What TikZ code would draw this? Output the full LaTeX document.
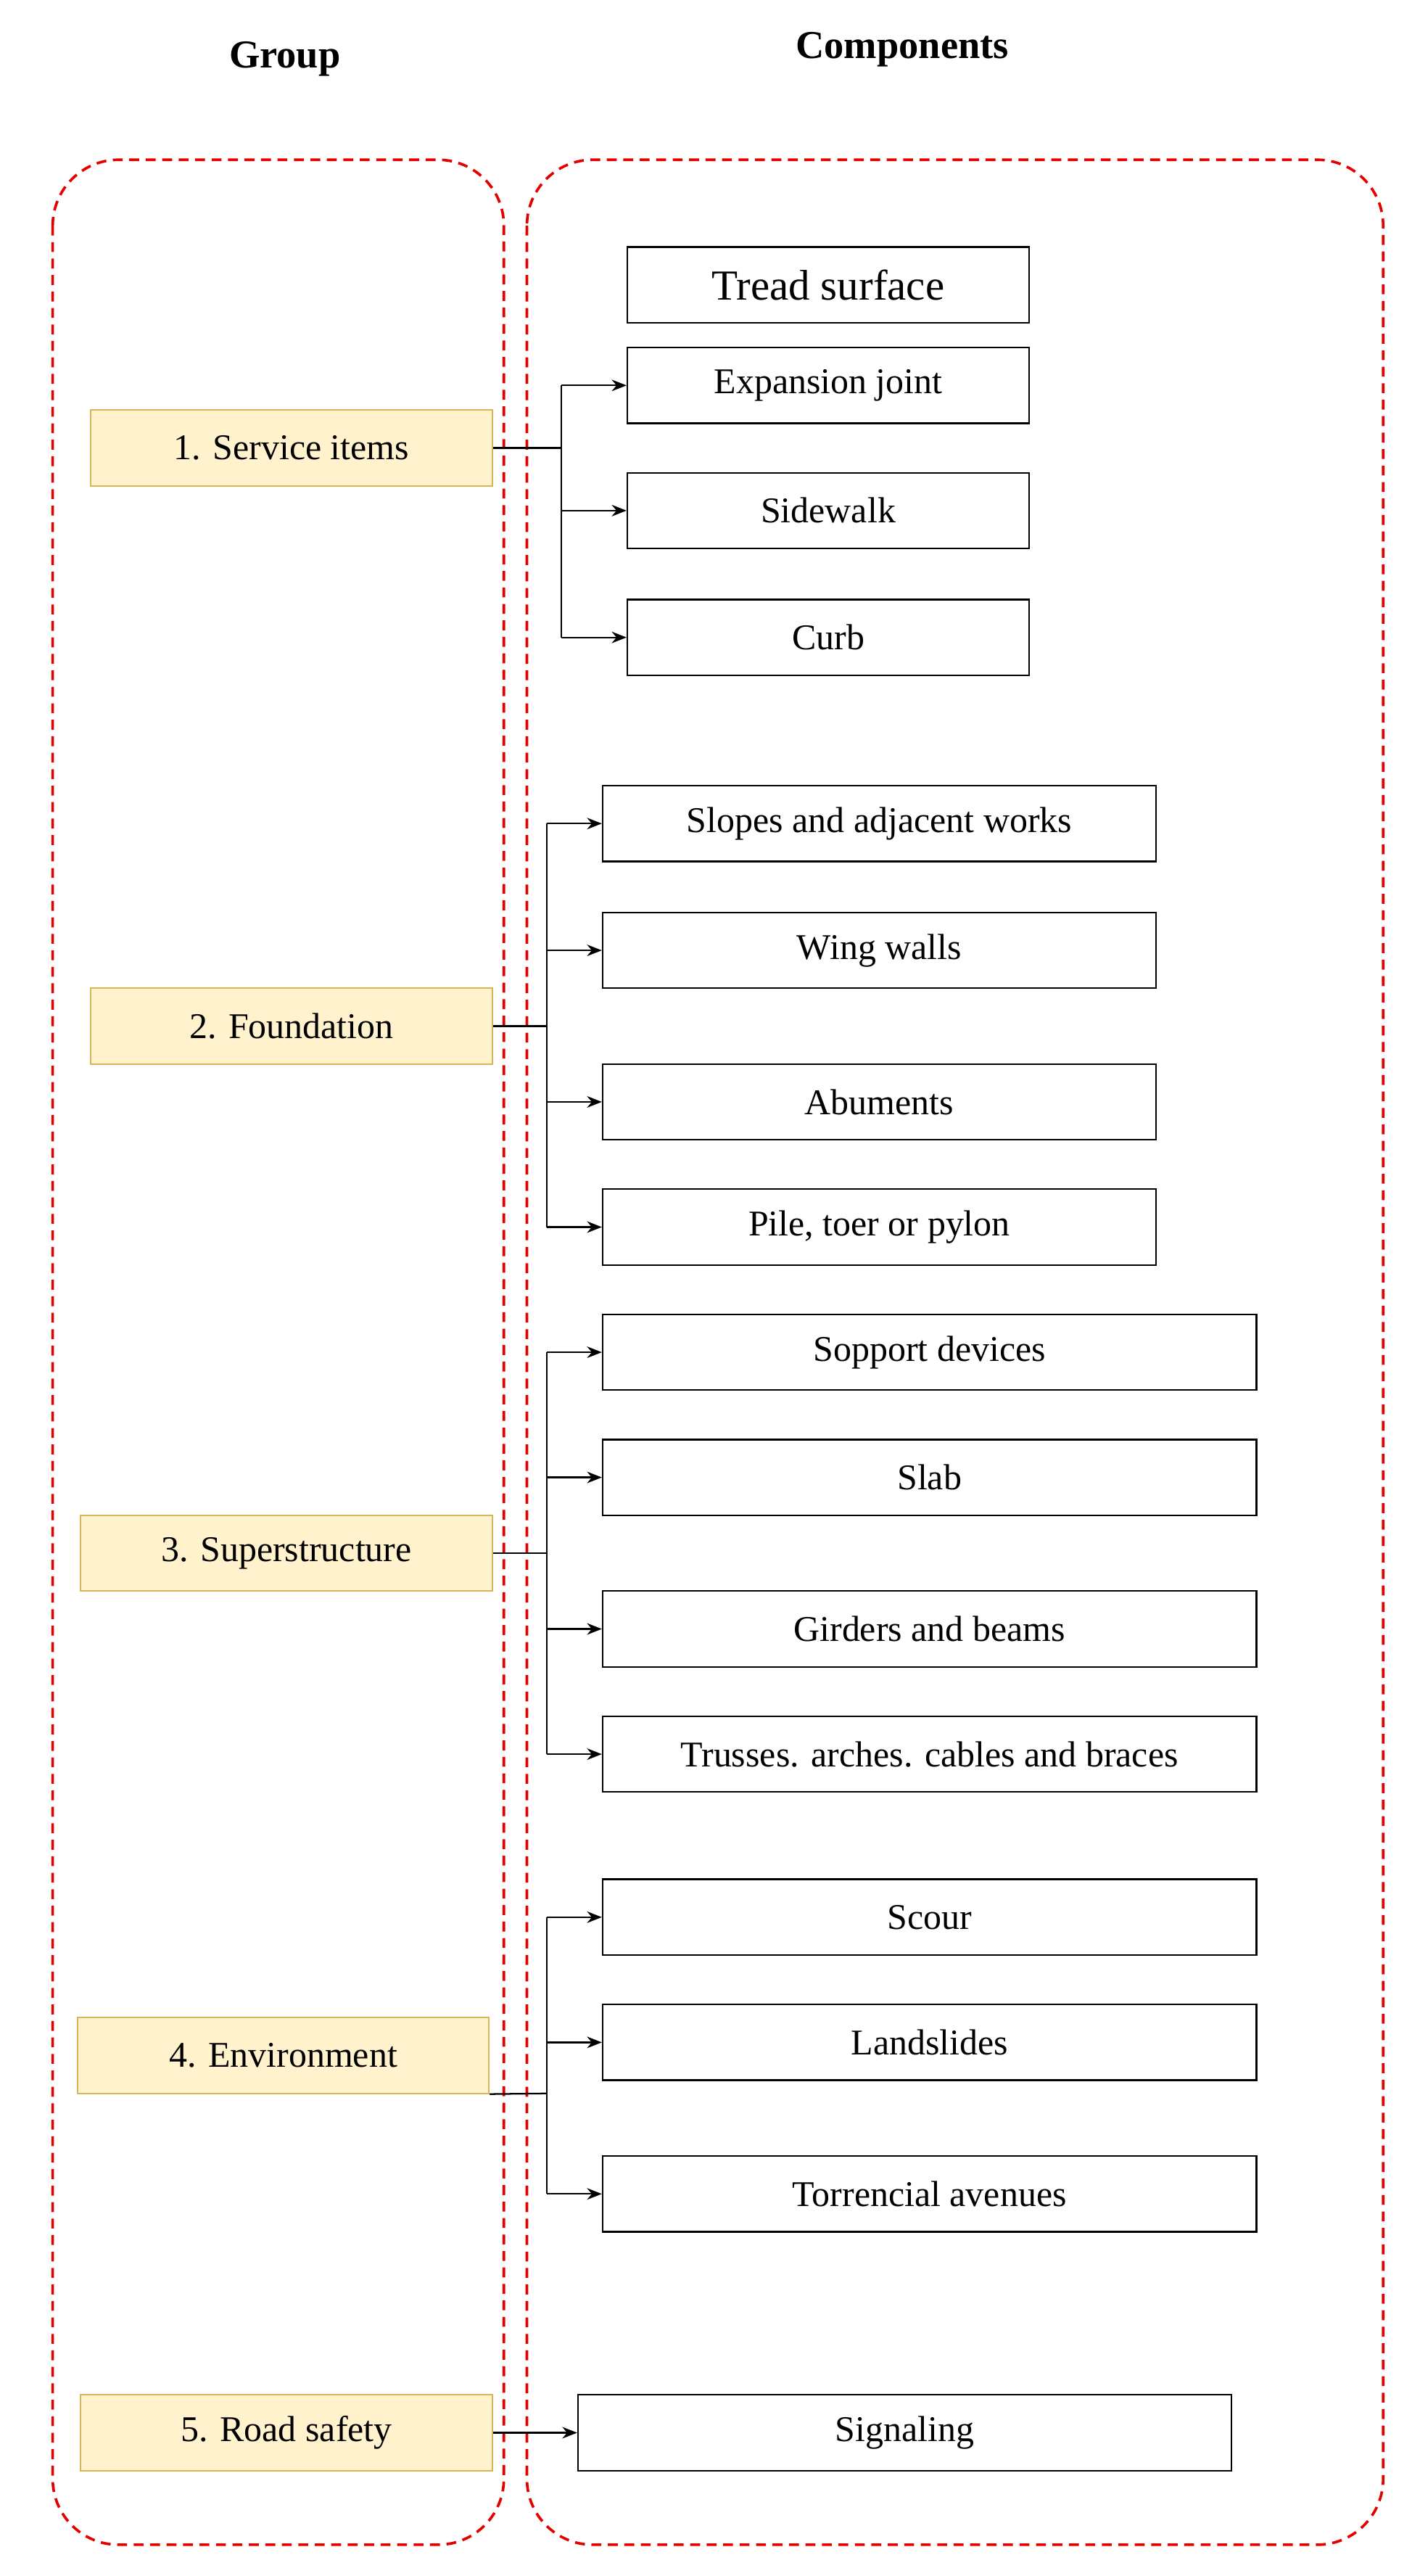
\documentclass[tikz,border=0pt]{standalone}
\usepackage{fontspec}
\setmainfont{Liberation Serif}
\usetikzlibrary{arrows.meta}
\begin{document}
\begin{tikzpicture}[x=1pt,y=-1pt,
  grp/.style={draw=red!90!black,dashed,line width=1.6pt,rounded corners=40pt,dash pattern=on 6pt off 4pt},
  gbox/.style={draw={rgb,255:red,214;green,182;blue,86},fill={rgb,255:red,255;green,242;blue,204},line width=0.8pt,minimum height=46pt,inner sep=0pt,font=\fontsize{22}{26}\selectfont},
  cbox/.style={draw,line width=1pt,minimum height=46pt,inner sep=0pt,font=\fontsize{22}{26}\selectfont},
  con/.style={line width=1pt},
  arr/.style={line width=1pt,-{Stealth[length=9pt,width=7pt]}},
  head/.style={font=\fontsize{24}{28}\selectfont\bfseries}]
\useasboundingbox (0,0) rectangle (862,1564);
\draw[grp] (32,97) rectangle (306,1545);
\draw[grp] (320,97) rectangle (840,1545);
\node[head] (hg) at (173,36) {Group};
\node[head] (hc) at (548,30) {Components};
% groups
\node[gbox,minimum width=244pt] (g1) at (177,272) {1. Service items};
\node[gbox,minimum width=244pt] (g2) at (177,623) {2. Foundation};
\node[gbox,minimum width=250pt] (g3) at (174,943) {3. Superstructure};
\node[gbox,minimum width=250pt] (g4) at (172,1248) {4. Environment};
\node[gbox,minimum width=250pt] (g5) at (174,1477) {5. Road safety};
% components
\node[cbox,minimum width=244pt,font=\fontsize{26}{30}\selectfont] (t0) at (503,173) {Tread surface};
\node[cbox,minimum width=244pt] (a1) at (503,234) {Expansion joint};
\node[cbox,minimum width=244pt] (a2) at (503,310) {Sidewalk};
\node[cbox,minimum width=244pt] (a3) at (503,387) {Curb};
\node[cbox,minimum width=336pt] (b1) at (534,500) {Slopes and adjacent works};
\node[cbox,minimum width=336pt] (b2) at (534,577) {Wing walls};
\node[cbox,minimum width=336pt] (b3) at (534,669) {Abuments};
\node[cbox,minimum width=336pt] (b4) at (534,745) {Pile, toer or pylon};
\node[cbox,minimum width=397pt] (c1) at (564.5,821) {Sopport devices};
\node[cbox,minimum width=397pt] (c2) at (564.5,897) {Slab};
\node[cbox,minimum width=397pt] (c3) at (564.5,989) {Girders and beams};
\node[cbox,minimum width=397pt] (c4) at (564.5,1065) {Trusses. arches. cables and braces};
\node[cbox,minimum width=397pt] (d1) at (564.5,1164) {Scour};
\node[cbox,minimum width=397pt] (d2) at (564.5,1240) {Landslides};
\node[cbox,minimum width=397pt] (d3) at (564.5,1332) {Torrencial avenues};
\node[cbox,minimum width=397pt] (e1) at (549.5,1477) {Signaling};
% buses
\coordinate (j1) at (341,272);
\draw[con] (g1.east) -- (j1);
\draw[con] (341,234) -- (341,387);
\foreach \n in {a1,a2,a3} \draw[arr] (341,0 |- \n.west) -- (\n.west);
\coordinate (j2) at (332,623);
\draw[con] (g2.east) -- (j2);
\draw[con] (332,500) -- (332,745);
\foreach \n in {b1,b2,b3,b4} \draw[arr] (332,0 |- \n.west) -- (\n.west);
\coordinate (j3) at (332,943);
\draw[con] (g3.east) -- (j3);
\draw[con] (332,821) -- (332,1065);
\foreach \n in {c1,c2,c3,c4} \draw[arr] (332,0 |- \n.west) -- (\n.west);
\coordinate (j4) at (332,1271);
\draw[con] (g4.south east) -- (j4);
\draw[con] (332,1164) -- (332,1332);
\foreach \n in {d1,d2,d3} \draw[arr] (332,0 |- \n.west) -- (\n.west);
\draw[arr] (g5.east) -- (e1.west);
\end{tikzpicture}
\end{document}
